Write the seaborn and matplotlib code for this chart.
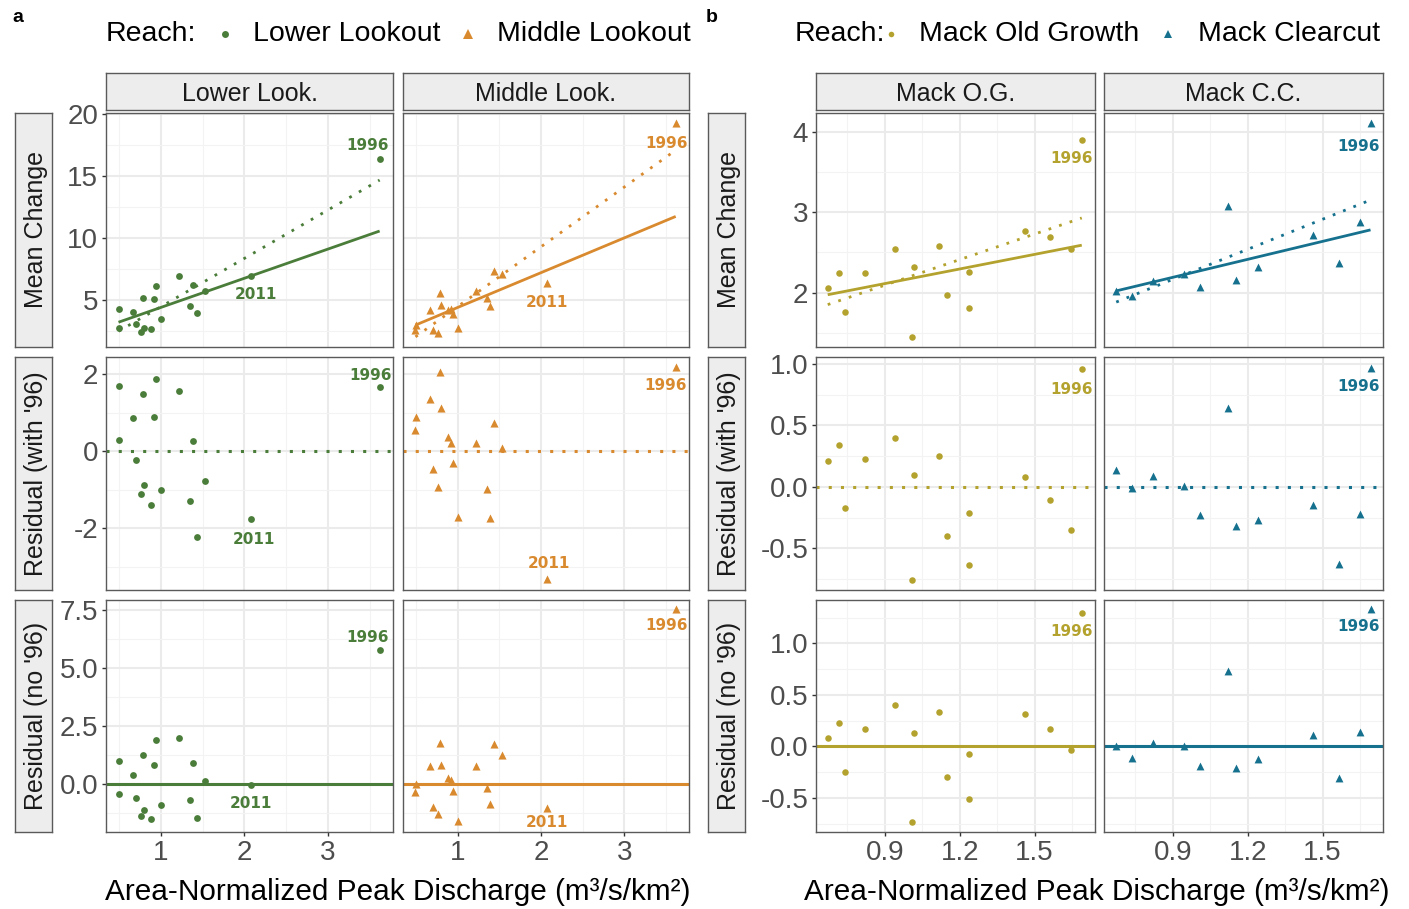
import numpy as np
import pandas as pd
import matplotlib
matplotlib.use("Agg")
import matplotlib.pyplot as plt
import seaborn as sns
from matplotlib.lines import Line2D
from matplotlib.ticker import FixedLocator, FuncFormatter

# ---------------- data ----------------
lookout_q = [0.49, 0.50, 0.66, 0.70, 0.765, 0.785, 0.80, 0.88, 0.92, 0.945,
             1.00, 1.22, 1.345, 1.385, 1.435, 1.53, 2.075, 3.62]
lookout_year = [""] * 16 + ["2011", "1996"]

lower_mean = [2.71, 4.25, 4.00, 3.08, 2.43, 5.14, 2.76, 2.63, 5.06, 6.14,
              3.46, 6.90, 4.52, 6.17, 3.97, 5.73, 6.90, 16.36]
lower_res_with = [0.28, 1.69, 0.86, -0.22, -1.11, 1.49, -0.89, -1.40, 0.89, 1.88,
                  -1.00, 1.56, -1.30, 0.25, -2.22, -0.77, -1.76, 1.66]
lower_res_no = [-0.44, 1.00, 0.40, -0.62, -1.41, 1.24, -1.13, -1.51, 0.83, 1.87,
                -0.92, 1.97, -0.69, 0.91, -1.48, 0.10, -0.07, 5.76]

middle_mean = [2.57, 2.98, 4.19, 2.57, 2.35, 5.55, 4.60, 4.19, 4.25, 3.87,
               2.76, 5.73, 5.14, 4.52, 7.30, 7.09, 6.36, 19.28]
middle_res_with = [0.56, 0.89, 1.36, -0.47, -0.92, 2.05, 1.11, 0.37, 0.20, -0.32,
                   -1.70, 0.22, -0.98, -1.73, 0.74, 0.09, -3.32, 2.18]
middle_res_no = [-0.37, 0.00, 0.78, -0.98, -1.31, 1.75, 0.79, 0.24, 0.17, -0.33,
                 -1.62, 0.76, -0.19, -0.88, 1.72, 1.25, -1.05, 7.54]

og_q = [0.671, 0.716, 0.74, 0.82, 0.941, 1.009, 1.015, 1.117, 1.149, 1.239,
        1.239, 1.46, 1.563, 1.647, 1.689]
og_year = [""] * 14 + ["1996"]
og_mean = [2.06, 2.24, 1.76, 2.24, 2.545, 1.445, 2.32, 2.58, 1.97, 2.25,
           1.81, 2.77, 2.69, 2.54, 3.89]
og_res_with = [0.21, 0.34, -0.17, 0.23, 0.40, -0.76, 0.10, 0.25, -0.40, -0.21,
               -0.64, 0.08, -0.11, -0.35, 0.96]
og_res_no = [0.08, 0.23, -0.25, 0.17, 0.40, -0.73, 0.13, 0.33, -0.30, -0.07,
             -0.51, 0.31, 0.17, -0.03, 1.29]

cc_q = [0.673, 0.738, 0.822, 0.945, 1.009, 1.12, 1.152, 1.243, 1.462, 1.565, 1.649, 1.692]
cc_year = [""] * 11 + ["1996"]
cc_mean = [2.02, 1.96, 2.145, 2.23, 2.07, 3.075, 2.16, 2.32, 2.71, 2.37, 2.875, 4.11]
cc_res_with = [0.14, -0.01, 0.09, 0.01, -0.23, 0.64, -0.32, -0.27, -0.15, -0.63, -0.22, 0.97]
cc_res_no = [0.00, -0.11, 0.03, 0.00, -0.19, 0.73, -0.21, -0.12, 0.11, -0.31, 0.14, 1.33]

row_names = ["Mean Change", "Residual (with '96)", "Residual (no '96)"]
x_title = "Area-Normalized Peak Discharge (m\u00b3/s/km\u00b2)"

colors = {"Lower Lookout": "#4B7D3A", "Middle Lookout": "#D98A2F",
          "Mack Old Growth": "#B4A22E", "Mack Clearcut": "#16718F"}

# ---------------- style ----------------
sns.set_theme(style="white")
plt.rcParams["font.family"] = ["Liberation Sans", "DejaVu Sans"]
plt.rcParams["axes.unicode_minus"] = False

W, H = 1409, 909
fig = plt.figure(figsize=(W / 100, H / 100), dpi=100)


def fbox(x0, y0, w, h):
    return [x0 / W, 1 - (y0 + h) / H, w / W, h / H]


row_tops = [113, 357, 600]
row_hts = [234, 233, 232]

BORDER = "#5A5A5A"
STRIP_FILL = "#EDEDED"
TXT = "#4D4D4D"

groups = [
    dict(
        letter="a", letter_x=18, strip_x=15, col_x=[106, 403], col_w=[287, 286],
        xlim=(0.34, 3.78), xmaj=[1, 2, 3], xmin=[0.5, 1.5, 2.5, 3.5], xfmt="{:g}",
        ylims=[(1.2, 20.1), (-3.6, 2.44), (-2.08, 7.93)],
        ymaj=[[5, 10, 15, 20], [-2, 0, 2], [0, 2.5, 5, 7.5]],
        ymin=[[2.5, 7.5, 12.5, 17.5], [-3, -1, 1], [-1.25, 1.25, 3.75, 6.25]],
        yfmt=["{:g}", "{:g}", "{:.1f}"],
        legend=dict(reach_x=106, items=[(225, "o", 5, 253, "Lower Lookout"),
                                        (468, "^", 7, 497, "Middle Lookout")]),
        xlabel_x=398,
        panels=[
            dict(strip="Lower Look.", reach="Lower Lookout", marker="o", s=24,
                 x=lookout_q, rows=[lower_mean, lower_res_with, lower_res_no], years=lookout_year,
                 offs={"1996": [(-12, 14), (-9, 12), (-12, 13)],
                       "2011": [(5, -18), (3, -20), (0, -18)]}),
            dict(strip="Middle Look.", reach="Middle Lookout", marker="^", s=34,
                 x=lookout_q, rows=[middle_mean, middle_res_with, middle_res_no], years=lookout_year,
                 offs={"1996": [(-9, -20), (-10, -18), (-9, -16)],
                       "2011": [(0, -19), (2, 16), (0, -14)]}),
        ],
    ),
    dict(
        letter="b", letter_x=712, strip_x=708, col_x=[816, 1104], col_w=[279, 279],
        xlim=(0.624, 1.742), xmaj=[0.9, 1.2, 1.5], xmin=[0.75, 1.05, 1.35, 1.65], xfmt="{:.1f}",
        ylims=[(1.325, 4.23), (-0.84, 1.057), (-0.83, 1.42)],
        ymaj=[[2, 3, 4], [-0.5, 0, 0.5, 1.0], [-0.5, 0, 0.5, 1.0]],
        ymin=[[1.5, 2.5, 3.5], [-0.75, -0.25, 0.25, 0.75], [-0.75, -0.25, 0.25, 0.75, 1.25]],
        yfmt=["{:g}", "{:.1f}", "{:.1f}"],
        legend=dict(reach_x=795, items=[(891, "o", 4, 919, "Mack Old Growth"),
                                        (1168, "^", 6, 1198, "Mack Clearcut")]),
        xlabel_x=1097,
        panels=[
            dict(strip="Mack O.G.", reach="Mack Old Growth", marker="o", s=22,
                 x=og_q, rows=[og_mean, og_res_with, og_res_no], years=og_year,
                 offs={"1996": [(-10, -18), (-10, -21), (-10, -18)]}),
            dict(strip="Mack C.C.", reach="Mack Clearcut", marker="^", s=32,
                 x=cc_q, rows=[cc_mean, cc_res_with, cc_res_no], years=cc_year,
                 offs={"1996": [(-12, -24), (-12, -19), (-12, -17)]}),
        ],
    ),
]

DOT = (0, (1, 3))

for g in groups:
    # panel letter
    fig.text(g["letter_x"] / W, 1 - 18 / H, g["letter"], fontsize=14, fontweight="bold",
             ha="center", va="center", color="black")
    # legend
    lg = g["legend"]
    fig.text(lg["reach_x"] / W, 1 - 34 / H, "Reach:", fontsize=20.5, ha="left", va="center",
             color="black")
    for mx, mk, ms, tx, lab in lg["items"]:
        fig.add_artist(Line2D([mx / W], [1 - 34 / H], marker=mk, markersize=ms, linestyle="none",
                              color=colors[lab], markeredgewidth=0, transform=fig.transFigure))
        fig.text(tx / W, 1 - 34 / H, lab, fontsize=20.5, ha="left", va="center", color="black")
    # x title
    fig.text(g["xlabel_x"] / W, 1 - 892 / H, x_title, fontsize=21.4, ha="center", va="center",
             color="black")

    # row strips
    for r in range(3):
        sax = fig.add_axes(fbox(g["strip_x"], row_tops[r], 37, row_hts[r]))
        sax.set_facecolor(STRIP_FILL)
        sax.set_xticks([]); sax.set_yticks([])
        for sp in sax.spines.values():
            sp.set_color(BORDER); sp.set_linewidth(1.0)
        sax.text(0.58, 0.5, row_names[r], rotation=90, ha="center", va="center",
                 fontsize=18, color="#1A1A1A", transform=sax.transAxes)

    for c, p in enumerate(g["panels"]):
        col = colors[p["reach"]]
        # column strip
        sax = fig.add_axes(fbox(g["col_x"][c], 73, g["col_w"][c], 37))
        sax.set_facecolor(STRIP_FILL)
        sax.set_xticks([]); sax.set_yticks([])
        for sp in sax.spines.values():
            sp.set_color(BORDER); sp.set_linewidth(1.0)
        sax.text(0.5, 0.44, p["strip"], ha="center", va="center", fontsize=18,
                 color="#1A1A1A", transform=sax.transAxes)

        x = np.asarray(p["x"], dtype=float)
        for r in range(3):
            ax = fig.add_axes(fbox(g["col_x"][c], row_tops[r], g["col_w"][c], row_hts[r]))
            ax.set_facecolor("white")
            y = np.asarray(p["rows"][r], dtype=float)

            if r == 0:
                keep = np.array([yr != "1996" for yr in p["years"]])
                ax.set_xlim(x.min(), x.max())
                sns.regplot(x=x[keep], y=y[keep], ax=ax, scatter=False, ci=None, truncate=False,
                            color=col, line_kws=dict(lw=2.0, solid_capstyle="butt"))
                ax.set_xlim(x.min(), x.max())
                sns.regplot(x=x, y=y, ax=ax, scatter=False, ci=None, truncate=False,
                            color=col, line_kws=dict(lw=2.0, linestyle=DOT))
            elif r == 1:
                ax.axhline(0, color=col, lw=2.2, linestyle=DOT)
            else:
                ax.axhline(0, color=col, lw=2.2)

            sns.scatterplot(x=x, y=y, ax=ax, marker=p["marker"], s=p["s"], color=col,
                            linewidth=0, legend=False, zorder=3)

            for i, yr in enumerate(p["years"]):
                if yr and yr in p["offs"]:
                    dx, dy = p["offs"][yr][r]
                    ax.annotate(yr, xy=(x[i], y[i]), xytext=(dx, dy), textcoords="offset pixels",
                                ha="center", va="center", fontsize=11, fontweight="bold",
                                color=col, family="DejaVu Sans")

            ax.set_xlim(*g["xlim"])
            ax.set_ylim(*g["ylims"][r])
            ax.set_xlabel(""); ax.set_ylabel("")
            ax.xaxis.set_major_locator(FixedLocator(g["xmaj"]))
            ax.xaxis.set_minor_locator(FixedLocator(g["xmin"]))
            ax.yaxis.set_major_locator(FixedLocator(g["ymaj"][r]))
            ax.yaxis.set_minor_locator(FixedLocator(g["ymin"][r]))
            xf, yf = g["xfmt"], g["yfmt"][r]
            ax.xaxis.set_major_formatter(FuncFormatter(lambda v, pos, f=xf: f.format(v)))
            ax.yaxis.set_major_formatter(FuncFormatter(lambda v, pos, f=yf: f.format(v)))
            ax.grid(which="major", color="#EBEBEB", lw=1.5)
            ax.grid(which="minor", color="#F3F3F3", lw=0.8)
            ax.set_axisbelow(True)
            for sp in ax.spines.values():
                sp.set_color(BORDER); sp.set_linewidth(1.0)
            ax.tick_params(which="major", length=3, width=1, color="#333333",
                           labelsize=20, labelcolor=TXT, pad=2.5)
            ax.tick_params(which="minor", length=0)
            ax.tick_params(axis="x", labelbottom=(r == 2), bottom=(r == 2))
            ax.tick_params(axis="y", labelleft=(c == 0), left=(c == 0))

fig.savefig("out.png", dpi=100, facecolor="white")
